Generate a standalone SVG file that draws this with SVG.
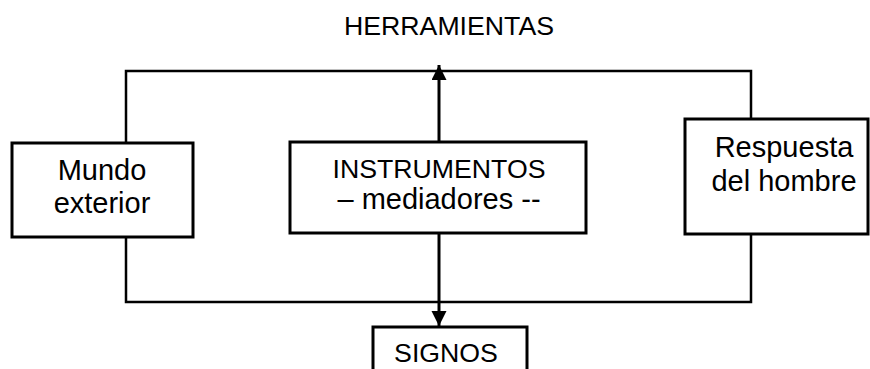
<svg xmlns="http://www.w3.org/2000/svg" width="870" height="369" viewBox="0 0 870 369">
<style>
.box{fill:#fff;stroke:#000;stroke-width:3}
.ln{fill:none;stroke:#000;stroke-width:2.5}
.ar{fill:none;stroke:#000;stroke-width:3}
.t{font-family:"Liberation Sans",Arial,sans-serif;fill:#000;text-anchor:middle}
.lc{font-size:29px}
.uc{font-size:26.7px}
</style>
<defs>
<marker id="ah" markerUnits="userSpaceOnUse" markerWidth="16" markerHeight="16" refX="15" refY="7.5" orient="auto">
<path d="M0,0 L15,7.5 L0,15 z" fill="#000"/>
</marker>
</defs>
<g id="connectors">
<path class="ln" d="M126,143 V71 H751 V119"/>
<path class="ln" d="M126,237 V302 H751 V234"/>
<path class="ar" d="M439,142 V65" marker-end="url(#ah)"/>
<path class="ar" d="M439,233 V326" marker-end="url(#ah)"/>
</g>
<g id="herramientas">
<text class="t uc" x="449" y="35">HERRAMIENTAS</text>
</g>
<g id="mundo">
<rect class="box" x="12" y="143" width="181" height="94"/>
<text class="t lc" x="102" y="180">Mundo</text>
<text class="t lc" x="102" y="213">exterior</text>
</g>
<g id="instrumentos">
<rect class="box" x="290" y="142" width="296" height="91"/>
<text class="t uc" x="439" y="178">INSTRUMENTOS</text>
<text class="t lc" x="439" y="209">– mediadores --</text>
</g>
<g id="respuesta">
<rect class="box" x="685" y="119" width="183" height="115"/>
<text class="t lc" x="784" y="157">Respuesta</text>
<text class="t lc" x="784" y="191">del hombre</text>
</g>
<g id="signos">
<rect class="box" x="373" y="327" width="154" height="60"/>
<text class="t uc" x="446" y="362">SIGNOS</text>
</g>
</svg>
